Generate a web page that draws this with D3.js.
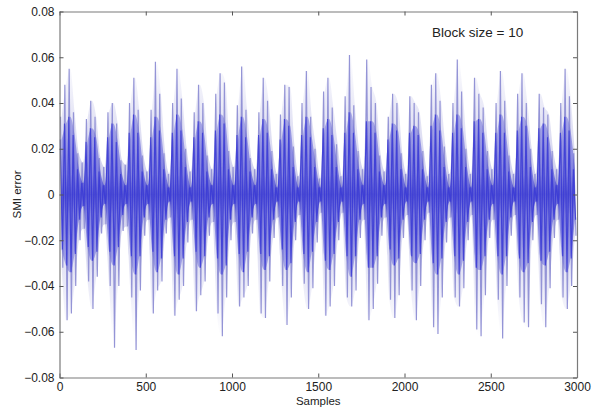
<!DOCTYPE html>
<html>
<head>
<meta charset="utf-8">
<script src="https://cdn.jsdelivr.net/npm/d3@7"></script>
<style>
    body { margin: 0; background: #fff; }
    svg { display: block; }
    text { font-family: Arial, "Liberation Sans", sans-serif; fill: #222; }
</style>
</head>
<body>
<div id="chart"></div>
<script>

// samples per bin, each bin holds the extremes
const binSize = 25;

// highest spike in each bin
const spikeHigh = [
    0.034, 0.048, 0.055, 0.036, 0.018,
    0.014, 0.033, 0.041, 0.034, 0.016,
    0.012, 0.036, 0.040, 0.031, 0.015,
    0.013, 0.040, 0.051, 0.037, 0.017,
    0.010, 0.037, 0.058, 0.044, 0.018,
    0.009, 0.040, 0.055, 0.042, 0.020,
    0.010, 0.036, 0.048, 0.040, 0.017,
    0.011, 0.044, 0.053, 0.049, 0.019,
    0.012, 0.039, 0.056, 0.037, 0.016,
    0.011, 0.036, 0.051, 0.041, 0.019,
    0.009, 0.035, 0.048, 0.047, 0.021,
    0.008, 0.040, 0.054, 0.034, 0.020,
    0.007, 0.045, 0.051, 0.038, 0.022,
    0.008, 0.043, 0.061, 0.039, 0.019,
    0.011, 0.059, 0.047, 0.040, 0.017,
    0.010, 0.034, 0.044, 0.040, 0.018,
    0.009, 0.043, 0.040, 0.036, 0.019,
    0.008, 0.048, 0.053, 0.041, 0.021,
    0.009, 0.040, 0.059, 0.045, 0.020,
    0.009, 0.051, 0.044, 0.038, 0.019,
    0.011, 0.040, 0.054, 0.041, 0.017,
    0.009, 0.044, 0.053, 0.040, 0.020,
    0.009, 0.044, 0.038, 0.035, 0.019,
    0.011, 0.040, 0.055, 0.043, 0.018
];

// lowest spike in each bin
const spikeLow = [
    -0.032, -0.055, -0.052, -0.040, -0.020,
    -0.015, -0.038, -0.050, -0.036, -0.017,
    -0.013, -0.040, -0.067, -0.040, -0.016,
    -0.014, -0.045, -0.068, -0.042, -0.018,
    -0.011, -0.052, -0.042, -0.038, -0.017,
    -0.010, -0.053, -0.046, -0.040, -0.021,
    -0.011, -0.051, -0.044, -0.038, -0.018,
    -0.012, -0.052, -0.062, -0.045, -0.020,
    -0.012, -0.049, -0.045, -0.040, -0.017,
    -0.011, -0.052, -0.054, -0.038, -0.019,
    -0.010, -0.040, -0.057, -0.045, -0.020,
    -0.009, -0.039, -0.050, -0.041, -0.021,
    -0.008, -0.053, -0.049, -0.040, -0.020,
    -0.008, -0.045, -0.049, -0.042, -0.019,
    -0.011, -0.055, -0.050, -0.039, -0.018,
    -0.010, -0.046, -0.054, -0.044, -0.019,
    -0.009, -0.042, -0.055, -0.040, -0.020,
    -0.008, -0.058, -0.061, -0.045, -0.021,
    -0.010, -0.045, -0.049, -0.041, -0.020,
    -0.009, -0.059, -0.062, -0.044, -0.019,
    -0.011, -0.046, -0.063, -0.040, -0.018,
    -0.009, -0.045, -0.056, -0.058, -0.020,
    -0.009, -0.048, -0.058, -0.041, -0.019,
    -0.011, -0.045, -0.050, -0.040, -0.018
];

// half-height of the dense blue band in each bin
const coreAmp = [
    0.024, 0.031, 0.034, 0.026, 0.011,
    0.005, 0.023, 0.029, 0.025, 0.010,
    0.004, 0.025, 0.031, 0.023, 0.009,
    0.004, 0.027, 0.035, 0.027, 0.010,
    0.004, 0.025, 0.034, 0.028, 0.011,
    0.003, 0.027, 0.035, 0.028, 0.012,
    0.003, 0.025, 0.032, 0.027, 0.010,
    0.004, 0.028, 0.035, 0.031, 0.011,
    0.004, 0.026, 0.034, 0.025, 0.010,
    0.004, 0.026, 0.033, 0.027, 0.011,
    0.003, 0.024, 0.033, 0.030, 0.012,
    0.003, 0.026, 0.034, 0.025, 0.012,
    0.003, 0.029, 0.033, 0.026, 0.012,
    0.003, 0.027, 0.036, 0.027, 0.011,
    0.004, 0.032, 0.032, 0.027, 0.010,
    0.004, 0.024, 0.031, 0.028, 0.011,
    0.003, 0.027, 0.030, 0.026, 0.011,
    0.003, 0.030, 0.035, 0.028, 0.012,
    0.003, 0.027, 0.035, 0.029, 0.012,
    0.003, 0.032, 0.033, 0.027, 0.011,
    0.004, 0.027, 0.035, 0.027, 0.010,
    0.003, 0.028, 0.034, 0.030, 0.012,
    0.003, 0.029, 0.031, 0.025, 0.011,
    0.004, 0.027, 0.034, 0.028, 0.011
];

const xTicks = [0, 500, 1000, 1500, 2000, 2500, 3000];
const yTicks = [-0.08, -0.06, -0.04, -0.02, 0, 0.02, 0.04, 0.06, 0.08];

const titleText = "Block size = 10";
const xLabel = "Samples";
const yLabel = "SMI error";

const [viewWidth, viewHeight] = [598, 408];
const box = {left: 59.5, right: 577, top: 11.5, bottom: 377.5};

const svg = d3.select("#chart")
    .append("svg")
    .attr("width", viewWidth)
    .attr("height", viewHeight);

const x = d3.scaleLinear()
    .domain([0, 3000])
    .range([box.left, box.right]);

const y = d3.scaleLinear()
    .domain([-0.08, 0.08])
    .range([box.bottom, box.top]);

const defs = svg.append("defs");

defs.append("clipPath")
    .attr("id", "plot-clip")
    .append("rect")
    .attr("x", box.left)
    .attr("y", box.top)
    .attr("width", box.right - box.left)
    .attr("height", box.bottom - box.top);

const addGradient = (id, top, stops) => {
    const g = defs.append("linearGradient")
        .attr("id", id)
        .attr("gradientUnits", "userSpaceOnUse")
        .attr("x1", 0).attr("x2", 0)
        .attr("y1", y(top)).attr("y2", y(-top));
    stops.forEach(([off, col, op]) => {
        g.append("stop")
            .attr("offset", off)
            .attr("stop-color", col)
            .attr("stop-opacity", op);
    });
};

addGradient("core-grad", 0.036, [
    [0, "#8484dc", 1],
    [0.38, "#4a4ad8", 1],
    [0.5, "#1414cc", 1],
    [0.62, "#4a4ad8", 1],
    [1, "#8484dc", 1]
]);

addGradient("haze-grad", 0.062, [
    [0, "#a4a4de", 0],
    [0.2, "#a4a4de", 0.25],
    [0.5, "#9a9ad8", 0.55],
    [0.8, "#a4a4de", 0.25],
    [1, "#a4a4de", 0]
]);

const plot = svg.append("g").attr("clip-path", "url(#plot-clip)");

const line = d3.line()
    .x(d => x(d[0]))
    .y(d => y(d[1]));

const binX = i => x(i * binSize + binSize / 2);

// faint haze between the spike extremes
const hazeArea = d3.area()
    .x((d, i) => binX(i))
    .y0((d, i) => y(spikeLow[i]))
    .y1(d => y(d))
    .curve(d3.curveMonotoneX);

plot.append("path")
    .attr("d", hazeArea(spikeHigh))
    .attr("fill", "url(#haze-grad)");

// light spikes: up then down in each bin
const spikePts = spikeHigh.flatMap((h, i) => [
    [i * binSize + 6, h],
    [i * binSize + 19, spikeLow[i]]
]);

plot.append("path")
    .attr("d", line(spikePts))
    .attr("fill", "none")
    .attr("stroke", "#9494d6")
    .attr("stroke-width", 1.2);

// dense band, drawn as a soft fill with a stroked trace over it
const coreArea = d3.area()
    .x((d, i) => binX(i))
    .y0(d => y(-d))
    .y1(d => y(d))
    .curve(d3.curveMonotoneX);

plot.append("path")
    .attr("d", coreArea(coreAmp))
    .attr("fill", "url(#core-grad)")
    .attr("opacity", 0.6);

const corePts = coreAmp.flatMap((c, i) => [
    [i * binSize + 4, c],
    [i * binSize + 17, -c]
]);

plot.append("path")
    .attr("d", line(corePts))
    .attr("fill", "none")
    .attr("stroke", "#3c3cd6")
    .attr("stroke-width", 1.1)
    .attr("opacity", 0.9);

// axes, MATLAB style with inward ticks
const axisStyle = g => {
    g.select(".domain").attr("stroke", "#7a7a7a").attr("stroke-width", 1.2);
    g.selectAll(".tick line").attr("stroke", "#555");
    g.selectAll(".tick text")
        .attr("fill", "#222")
        .style("font-size", "12px")
        .style("font-family", "Arial, 'Liberation Sans', sans-serif");
};

svg.append("g")
    .attr("transform", `translate(0,${box.bottom})`)
    .call(d3.axisBottom(x).tickValues(xTicks).tickFormat(d3.format("d")).tickSizeInner(-4).tickSizeOuter(0).tickPadding(5))
    .call(axisStyle);

svg.append("g")
    .attr("transform", `translate(0,${box.top})`)
    .call(d3.axisTop(x).tickValues(xTicks).tickFormat("").tickSizeInner(-4).tickSizeOuter(0))
    .call(axisStyle);

svg.append("g")
    .attr("transform", `translate(${box.left},0)`)
    .call(d3.axisLeft(y).tickValues(yTicks).tickFormat(d => d === 0 ? "0" : d3.format(".2f")(d)).tickSizeInner(-4).tickSizeOuter(0).tickPadding(5))
    .call(axisStyle);

svg.append("g")
    .attr("transform", `translate(${box.right},0)`)
    .call(d3.axisRight(y).tickValues(yTicks).tickFormat("").tickSizeInner(-4).tickSizeOuter(0))
    .call(axisStyle);

svg.append("text")
    .attr("x", 432)
    .attr("y", 37)
    .style("font-size", "13.5px")
    .text(titleText);

svg.append("text")
    .attr("x", (box.left + box.right) / 2)
    .attr("y", 405)
    .attr("text-anchor", "middle")
    .style("font-size", "11.5px")
    .text(xLabel);

svg.append("text")
    .attr("transform", `translate(21,${(box.top + box.bottom) / 2}) rotate(-90)`)
    .attr("text-anchor", "middle")
    .style("font-size", "11.5px")
    .text(yLabel);

</script>
</body>
</html>
